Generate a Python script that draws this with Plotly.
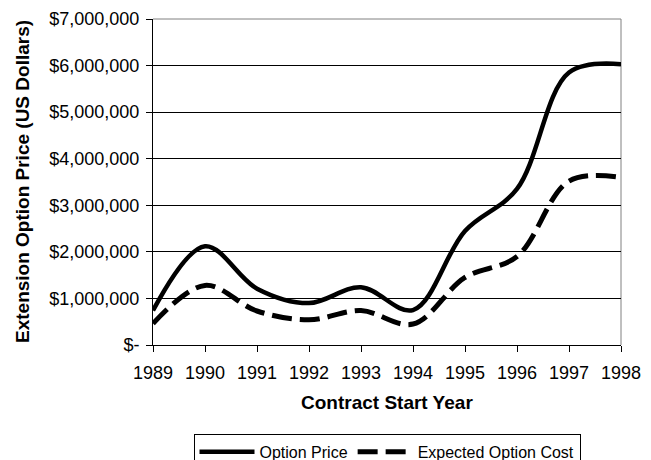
import plotly.graph_objects as go

# Contract start years and values (US dollars)
years = [1989, 1990, 1991, 1992, 1993, 1994, 1995, 1996, 1997, 1998]
option_price = [740000, 2120000, 1210000, 900000, 1240000, 750000,
                2450000, 3350000, 5850000, 6030000]
expected_cost = [460000, 1280000, 730000, 540000, 740000, 450000,
                 1450000, 1900000, 3520000, 3600000]

y_tickvals = [0, 1e6, 2e6, 3e6, 4e6, 5e6, 6e6, 7e6]
y_ticktext = ["$-", "$1,000,000", "$2,000,000", "$3,000,000", "$4,000,000",
              "$5,000,000", "$6,000,000", "$7,000,000"]

FONT = "Arial, Liberation Sans, sans-serif"

fig = go.Figure()
fig.add_trace(go.Scatter(
    x=years, y=option_price, name="Option Price", mode="lines",
    line=dict(color="black", width=4.5, shape="spline", smoothing=1.0),
))
fig.add_trace(go.Scatter(
    x=years, y=expected_cost, name="Expected Option Cost", mode="lines",
    line=dict(color="black", width=5, shape="spline", smoothing=1.0,
              dash="20px,8px"),
))

fig.update_layout(
    width=651, height=460,
    margin=dict(l=153, r=30, t=19, b=115, autoexpand=False),
    paper_bgcolor="white", plot_bgcolor="white",
    font=dict(family=FONT, color="black", size=18),
    showlegend=True,
    legend=dict(
        orientation="h", x=0.5, xanchor="center",
        y=(344.5 - 433) / 325, yanchor="top",
        bordercolor="black", borderwidth=1,
        font=dict(family=FONT, size=16, color="black"),
        itemwidth=55, tracegroupgap=0,
    ),
    xaxis=dict(
        range=[1989, 1998], tickvals=years, ticktext=[str(y) for y in years],
        showgrid=False, zeroline=False,
        showline=True, linecolor="black", linewidth=1,
        ticks="outside", ticklen=6, tickcolor="black",
        tickfont=dict(size=18), ticklabelstandoff=5,
    ),
    yaxis=dict(
        range=[0, 7e6], tickvals=y_tickvals, ticktext=y_ticktext,
        showgrid=True, gridcolor="black", gridwidth=1,
        zeroline=False,
        showline=True, linecolor="black", linewidth=1,
        ticks="outside", ticklen=6, tickcolor="black",
        tickfont=dict(size=18), ticklabelstandoff=3,
    ),
    annotations=[
        dict(text="<b>Extension Option Price (US Dollars)</b>",
             xref="paper", yref="paper", x=(22 - 153) / 468, y=0.5,
             xanchor="center", yanchor="middle", textangle=-90,
             showarrow=False, font=dict(family=FONT, size=19)),
        dict(text="<b>Contract Start Year</b>",
             xref="paper", yref="paper", x=0.5, y=(344.5 - 402) / 325,
             xanchor="center", yanchor="middle",
             showarrow=False, font=dict(family=FONT, size=19)),
    ],
    shapes=[
        # grey frame on top and right of the plot area
        dict(type="line", xref="paper", yref="paper", x0=0, x1=1, y0=1, y1=1,
             line=dict(color="#808080", width=1), layer="between"),
        dict(type="line", xref="paper", yref="paper", x0=1, x1=1, y0=0, y1=1,
             line=dict(color="#808080", width=1), layer="between"),
    ],
)

fig.write_html("out.html")
